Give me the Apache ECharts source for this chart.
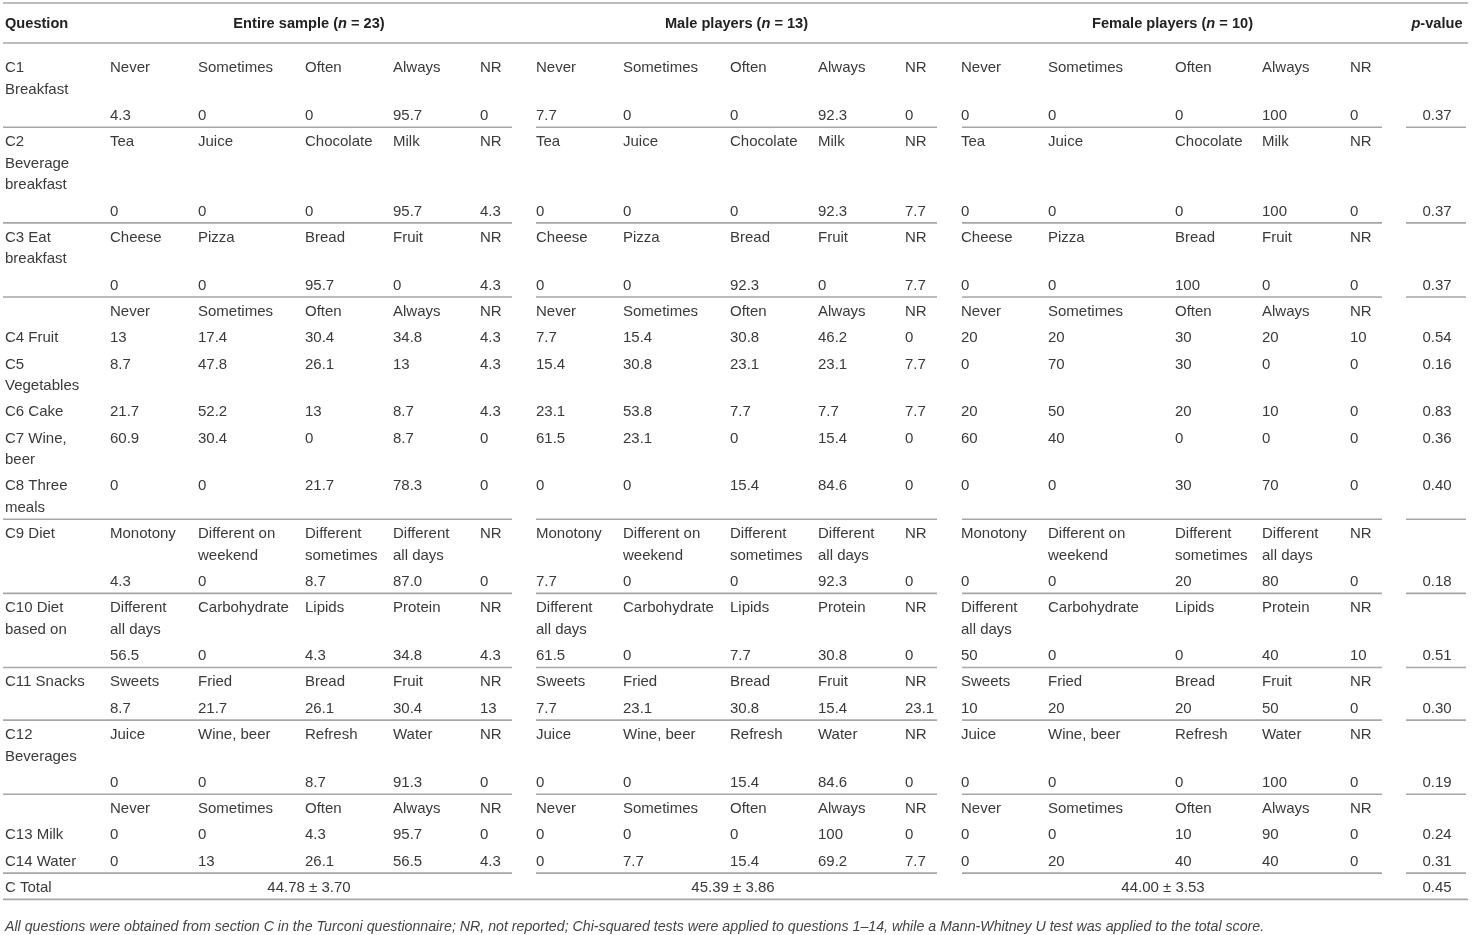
<!DOCTYPE html>
<html><head><meta charset="utf-8">
<script src="https://cdn.jsdelivr.net/npm/echarts@6/dist/echarts.min.js"></script>
<style>html,body{margin:0;padding:0;background:#fff}#chart{width:1472px;height:935px}</style>
</head><body><div id="chart"></div>
<script>
// ---------------- DATA ----------------
const groupNames = ['Entire sample', 'Male players', 'Female players'];
const groupN = [23, 13, 10];
const questionNames = ['C1\nBreakfast', 'C2\nBeverage\nbreakfast', 'C3 Eat\nbreakfast', 'C4 Fruit', 'C5\nVegetables',
  'C6 Cake', 'C7 Wine,\nbeer', 'C8 Three\nmeals', 'C9 Diet', 'C10 Diet\nbased on', 'C11 Snacks', 'C12\nBeverages',
  'C13 Milk', 'C14 Water'];
const freqOptions = ['Never', 'Sometimes', 'Often', 'Always', 'NR'];
const optionsC2 = ['Tea', 'Juice', 'Chocolate', 'Milk', 'NR'];
const optionsC3 = ['Cheese', 'Pizza', 'Bread', 'Fruit', 'NR'];
const optionsC9 = ['Monotony', 'Different on\nweekend', 'Different\nsometimes', 'Different\nall days', 'NR'];
const optionsC10 = ['Different\nall days', 'Carbohydrate', 'Lipids', 'Protein', 'NR'];
const optionsC11 = ['Sweets', 'Fried', 'Bread', 'Fruit', 'NR'];
const optionsC12 = ['Juice', 'Wine, beer', 'Refresh', 'Water', 'NR'];
// values: entire sample (5), male players (5), female players (5)
const valuesC1 = ['4.3','0','0','95.7','0', '7.7','0','0','92.3','0', '0','0','0','100','0'];
const valuesC2 = ['0','0','0','95.7','4.3', '0','0','0','92.3','7.7', '0','0','0','100','0'];
const valuesC3 = ['0','0','95.7','0','4.3', '0','0','92.3','0','7.7', '0','0','100','0','0'];
const valuesC4 = ['13','17.4','30.4','34.8','4.3', '7.7','15.4','30.8','46.2','0', '20','20','30','20','10'];
const valuesC5 = ['8.7','47.8','26.1','13','4.3', '15.4','30.8','23.1','23.1','7.7', '0','70','30','0','0'];
const valuesC6 = ['21.7','52.2','13','8.7','4.3', '23.1','53.8','7.7','7.7','7.7', '20','50','20','10','0'];
const valuesC7 = ['60.9','30.4','0','8.7','0', '61.5','23.1','0','15.4','0', '60','40','0','0','0'];
const valuesC8 = ['0','0','21.7','78.3','0', '0','0','15.4','84.6','0', '0','0','30','70','0'];
const valuesC9 = ['4.3','0','8.7','87.0','0', '7.7','0','0','92.3','0', '0','0','20','80','0'];
const valuesC10 = ['56.5','0','4.3','34.8','4.3', '61.5','0','7.7','30.8','0', '50','0','0','40','10'];
const valuesC11 = ['8.7','21.7','26.1','30.4','13', '7.7','23.1','30.8','15.4','23.1', '10','20','20','50','0'];
const valuesC12 = ['0','0','8.7','91.3','0', '0','0','15.4','84.6','0', '0','0','0','100','0'];
const valuesC13 = ['0','0','4.3','95.7','0', '0','0','0','100','0', '0','0','10','90','0'];
const valuesC14 = ['0','13','26.1','56.5','4.3', '0','7.7','15.4','69.2','7.7', '0','20','40','40','0'];
const pValues = ['0.37','0.37','0.37','0.54','0.16','0.83','0.36','0.40','0.18','0.51','0.30','0.19','0.24','0.31'];
const totalScores = ['44.78 ± 3.70', '45.39 ± 3.86', '44.00 ± 3.53'];
const totalP = '0.45';
const footnote = 'All questions were obtained from section C in the Turconi questionnaire; NR, not reported; Chi-squared tests were applied to questions 1–14, while a Mann-Whitney U test was applied to the total score.';

// ---------------- LAYOUT ----------------
const W = 1472, H = 935;
const COLX = [110,198,305,393,480, 536,623,730,818,905, 961,1048,1175,1262,1350];
const QX = 5, PX = 1437;
const GROUP_CENTER = [309, 736.5, 1172.5];
const TOTAL_CENTER = [309, 733, 1163];
const SEGMENTS = [[3, 512], [536, 937], [962, 1382], [1406, 1466]];
const LH = 21.5, ROW = 26.3, TEXT_SHIFT = 2;
const FONT = '15px "Liberation Sans", Arial, sans-serif';
const BOLD = 'bold 14.6px "Liberation Sans", Arial, sans-serif';
const TXT = '#3a3a3a', LINE = '#a6a6a6';

function rep(a) { return [].concat(a, a, a); }
// row definitions
const rows = [];
function addRow(o) { rows.push(o); }
const optBlocks = {0: freqOptions, 1: optionsC2, 2: optionsC3, 8: optionsC9, 9: optionsC10, 10: optionsC11, 11: optionsC12};
const allValues = [valuesC1, valuesC2, valuesC3, valuesC4, valuesC5, valuesC6, valuesC7, valuesC8, valuesC9, valuesC10, valuesC11, valuesC12, valuesC13, valuesC14];
for (let q = 0; q < 14; q++) {
  if (q === 3 || q === 12) addRow({cells: rep(freqOptions)});
  if (optBlocks[q]) {
    addRow({label: questionNames[q], cells: rep(optBlocks[q])});
    addRow({cells: allValues[q], p: pValues[q], lineAfter: true});
  } else {
    addRow({label: questionNames[q], cells: allValues[q], p: pValues[q], lineAfter: (q === 7 || q === 13)});
  }
}
addRow({label: 'C Total', totals: totalScores, p: totalP});

const cells = [];
const segs = [];
// header
const HY = 22;
cells.push({x: QX, y: HY, text: '{b|Question}', align: 'left'});
groupNames.forEach((g, i) => cells.push({x: GROUP_CENTER[i], y: HY, text: '{b|' + g + ' (}{bi|n}{b| = ' + groupN[i] + ')}', align: 'center'}));
cells.push({x: PX, y: HY, text: '{bi|p}{b|-value}', align: 'center'});
let y = 66;
rows.forEach(r => {
  let lines = 1;
  const texts = [];
  if (r.label) texts.push({x: QX, text: r.label, align: 'left'});
  if (r.cells) r.cells.forEach((t, i) => texts.push({x: COLX[i], text: t, align: 'left'}));
  if (r.totals) r.totals.forEach((t, i) => texts.push({x: TOTAL_CENTER[i], text: t, align: 'center'}));
  if (r.p) texts.push({x: PX, text: r.p, align: 'center'});
  texts.forEach(t => { lines = Math.max(lines, t.text.split('\n').length); cells.push({x: t.x, y: y, text: t.text, align: t.align}); });
  const last = y + LH * (lines - 1);
  if (r.lineAfter) SEGMENTS.forEach(s => segs.push([s[0], s[1], last + 13.5]));
  r.bottom = last + 13.5;
  y = y + ROW + LH * (lines - 1);
});
// full-width rules
segs.push([3, 1468, 3]);
segs.push([3, 1468, 43]);
segs.push([3, 1468, rows[rows.length - 1].bottom]);
cells.push({x: QX, y: 925, text: footnote, align: 'left', foot: true});

const chart = echarts.init(document.getElementById('chart'), null, {renderer: 'canvas'});
chart.setOption({
  animation: false,
  backgroundColor: '#ffffff',
  grid: {left: 0, right: 0, top: 0, bottom: 0},
  xAxis: {type: 'value', min: 0, max: W, show: false},
  yAxis: {type: 'value', min: 0, max: H, inverse: true, show: false},
  series: [
    {
      type: 'custom', clip: false, silent: true,
      data: segs,
      renderItem: (params, api) => {
        const a = api.coord([api.value(0), api.value(2)]);
        const b = api.coord([api.value(1), api.value(2)]);
        return {type: 'line', shape: {x1: a[0], y1: a[1], x2: b[0], y2: b[1]}, style: {stroke: LINE, lineWidth: 1.6}};
      }
    },
    {
      type: 'custom', clip: false, silent: true,
      data: cells.map(c => [c.x, c.y]),
      renderItem: (params, api) => {
        const c = cells[params.dataIndex];
        const p = api.coord([api.value(0), api.value(1)]);
        const style = {
          text: c.text, x: p[0], y: p[1] - LH / 2 + TEXT_SHIFT, align: c.align, verticalAlign: 'top',
          fill: TXT, font: FONT, lineHeight: LH,
          rich: {
            b: {font: BOLD, fill: '#222', lineHeight: LH},
            bi: {font: 'italic ' + BOLD, fill: '#222', lineHeight: LH}
          }
        };
        if (c.foot) { style.font = 'italic 14.2px "Liberation Sans", Arial, sans-serif'; style.fill = '#444'; }
        return {type: 'text', style: style};
      }
    }
  ]
});
</script></body></html>
